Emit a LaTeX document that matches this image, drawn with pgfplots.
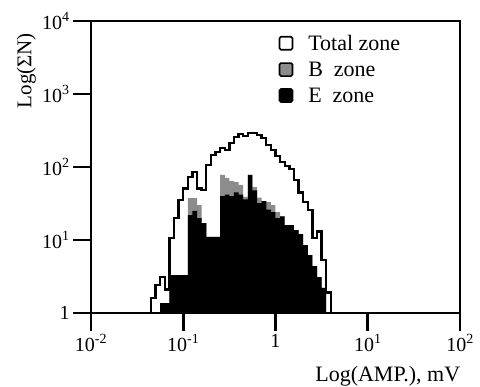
\documentclass[border=0pt]{standalone}
\usepackage{fontspec}
\setmainfont{Liberation Serif}
\usepackage{pgfplots}
\pgfplotsset{compat=1.18}
\begin{document}
\begin{tikzpicture}
\begin{axis}[
  scale only axis, width=369bp, height=292bp,
  xmode=log, ymode=log,
  xmin=0.01, xmax=100, ymin=1, ymax=10000,
  xtick={0.01,0.1,1,10,100},
  xticklabels={10\textsuperscript{-2},10\textsuperscript{-1},1,10\textsuperscript{1},10\textsuperscript{2}},
  ytick={1,10,100,1000,10000},
  yticklabels={1,10\textsuperscript{1},10\textsuperscript{2},10\textsuperscript{3},10\textsuperscript{4}},
  minor tick length=0pt,
  tick align=outside, major tick length=18bp,
  xtick pos=bottom, ytick pos=left,
  axis line style={line width=2.6bp},
  every tick/.style={black, line width=2.6bp},
  tick label style={font=\fontsize{20bp}{22bp}\selectfont},
  axis on top,
  xlabel={Log(AMP.), mV},
  ylabel={Log(ΣN)},
  xlabel style={font=\fontsize{22bp}{24bp}\selectfont, at={(axis description cs:1.01,-0.216)}, anchor=east},
  ylabel style={font=\fontsize{21bp}{24bp}\selectfont, at={(axis description cs:-0.175,0.83)}, anchor=center},
  legend cell align=left,
  legend image code/.code={\draw[#1, line width=1.6bp, rounded corners=1.5bp] (0bp,-6bp) rectangle (13bp,7bp);},
  legend style={at={(axis description cs:0.5,0.965)}, anchor=north west, draw=none, fill=none,
    font=\fontsize{22bp}{25bp}\selectfont, row sep=6bp,
    /tikz/every odd column/.append style={column sep=13bp}},
]
\addlegendimage{draw=black, fill=white}
\addlegendentry{Total zone}
\addlegendimage{draw=black, fill=black!45}
\addlegendentry{B\ \ zone}
\addlegendimage{draw=black, fill=black}
\addlegendentry{E\ \ zone}

% B zone
\addplot[const plot, fill=black!45, draw=none, forget plot] coordinates {
(0.04467,1) (0.04467,1) (0.05012,1) (0.05623,1.37) (0.06310,1.37) (0.07079,3.3)
(0.07943,3.3) (0.08913,3.3) (0.1,3.3) (0.1122,37.6) (0.1259,37.6) (0.1413,30)
(0.1585,17) (0.1778,11) (0.1995,11) (0.2239,11) (0.2512,78) (0.2818,71)
(0.3162,64) (0.3548,62) (0.3981,57) (0.4467,39) (0.5012,78) (0.5623,53)
(0.6310,38) (0.7079,34) (0.7943,33) (0.8913,30) (1,24) (1.122,21)
(1.259,16) (1.413,16) (1.585,13.7) (1.778,12) (1.995,8.5) (2.239,6.2)
(2.512,4.4) (2.818,3.1) (3.162,2.2) (3.548,1) (3.981,1)
};
% E zone
\addplot[const plot, fill=black, draw=none, forget plot] coordinates {
(0.04467,1) (0.04467,1) (0.05012,1) (0.05623,1.37) (0.06310,1.37) (0.07079,3.3)
(0.07943,3.3) (0.08913,3.3) (0.1,3.3) (0.1122,22) (0.1259,25) (0.1413,20)
(0.1585,17) (0.1778,11) (0.1995,11) (0.2239,11) (0.2512,40) (0.2818,42)
(0.3162,40) (0.3548,45) (0.3981,42) (0.4467,36) (0.5012,78) (0.5623,48)
(0.6310,32) (0.7079,34) (0.7943,26) (0.8913,24) (1,20) (1.122,21)
(1.259,16) (1.413,16) (1.585,13.7) (1.778,12) (1.995,8.5) (2.239,6.2)
(2.512,4.4) (2.818,3.1) (3.162,2.2) (3.548,1) (3.981,1)
};
% Total zone
\addplot[const plot, draw=black, line width=2.4bp, forget plot] coordinates {
(0.04467,1) (0.04467,1.6) (0.05012,2.4) (0.05623,3.1) (0.06310,2.1) (0.07079,10.6)
(0.07943,20) (0.08913,35) (0.1,51) (0.1122,73) (0.1259,85) (0.1413,51)
(0.1585,48) (0.1778,106) (0.1995,146) (0.2239,160) (0.2512,181) (0.2818,170)
(0.3162,213) (0.3548,257) (0.3981,283) (0.4467,265) (0.5012,290) (0.5623,290)
(0.6310,275) (0.7079,250) (0.7943,200) (0.8913,170) (1,141) (1.122,117)
(1.259,103) (1.413,94) (1.585,66) (1.778,45) (1.995,33) (2.239,26)
(2.512,10.6) (2.818,13) (3.162,5.3) (3.548,1.9) (3.981,1)
};
\end{axis}
\pgfresetboundingbox
\path[use as bounding box] ([shift={(-91bp,-74bp)}]current axis.south west) rectangle ([shift={(20bp,21bp)}]current axis.north east);
\end{tikzpicture}
\end{document}
